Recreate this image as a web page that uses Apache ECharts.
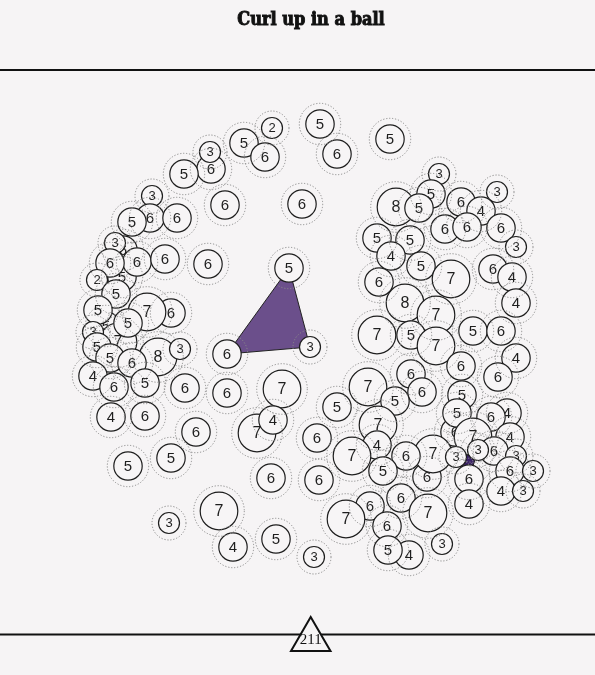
<!DOCTYPE html>
<html>
<head>
<meta charset="utf-8">
<script src="https://cdn.jsdelivr.net/npm/echarts@6/dist/echarts.min.js"></script>
<style>
html, body { margin: 0; padding: 0; background: #f6f4f5; }
#chart { width: 595px; height: 675px; }
</style>
</head>
<body>
<div id="chart"></div>
<script>
// node positions (layout units = px of the 595x675 picture) and their labels
// order matters: later nodes are drawn on top of earlier ones
var nodes = [
	// top arc
	[272, 128, 2], [244, 143, 5], [265, 157, 6], [320, 124, 5], [337, 154, 6],
	[390, 139, 5], [211, 169, 6], [210, 152, 3], [184, 174, 5], [152, 196, 3],
	[150, 218, 6], [132, 222, 5], [177, 218, 6], [225, 205, 6], [302, 204, 6],
	// left cluster (a few hidden ones first)
	[123, 250, 6], [122, 277, 5], [106, 326, 5], [118, 342, 7],
	[115, 243, 3], [137, 262, 6], [110, 263, 6], [165, 259, 6], [208, 264, 6],
	[97, 280, 2], [116, 294, 5], [98, 310, 5], [171, 313, 6], [147, 312, 7],
	[128, 323, 5], [93, 332, 3], [97, 347, 5], [110, 358, 5], [158, 357, 8],
	[180, 349, 3], [132, 363, 6], [93, 376, 4], [114, 387, 6], [145, 383, 5],
	[185, 388, 6], [111, 417, 4], [145, 416, 6], [196, 432, 6], [128, 466, 5],
	[171, 458, 5],
	// centre
	[289, 268, 5], [227, 354, 6], [310, 347, 3], [227, 393, 6], [282, 389, 7],
	[257, 433, 7], [273, 420, 4], [337, 407, 5], [317, 438, 6], [271, 478, 6],
	[319, 480, 6], [169, 523, 3], [219, 511, 7], [233, 547, 4], [276, 539, 5],
	[314, 557, 3],
	// right, upper
	[439, 174, 3], [497, 192, 3], [396, 207, 8], [431, 194, 5], [419, 208, 5],
	[461, 202, 6], [481, 211, 4], [445, 229, 6], [467, 227, 6], [501, 228, 6],
	[516, 247, 3], [377, 238, 5], [410, 240, 5], [391, 256, 4], [421, 266, 5],
	[451, 279, 7], [493, 269, 6], [512, 277, 4], [379, 282, 6], [516, 303, 4],
	[405, 303, 8], [436, 315, 7], [377, 335, 7], [411, 335, 5], [436, 346, 7],
	[473, 331, 5], [501, 331, 6], [516, 358, 4], [461, 366, 6], [498, 377, 6],
	// right, lower
	[368, 387, 7], [411, 374, 6], [422, 392, 6], [395, 401, 5], [462, 395, 5],
	[378, 425, 7], [377, 445, 4], [352, 456, 7], [455, 432, 6],
	[457, 413, 5], [507, 413, 4], [491, 417, 6], [473, 437, 7], [510, 437, 4],
	[427, 477, 6], [433, 454, 7], [406, 456, 6], [456, 457, 3], [494, 451, 6],
	[478, 450, 3], [516, 456, 3], [383, 471, 5], [469, 479, 6], [510, 471, 6],
	[533, 471, 3], [501, 491, 4], [523, 491, 3], [469, 504, 4], [370, 506, 6],
	[401, 498, 6], [346, 519, 7], [428, 513, 7], [387, 526, 6], [409, 555, 4],
	[388, 550, 5], [442, 544, 3]
];

// groups joined by a filled hull (member node centres)
var hullMain = [[289, 268], [310, 347], [227, 354]];
var hullSmall = [[456, 457], [478, 450], [469, 479]];
var hulls = [hullMain, hullSmall];
var hullColors = ['#6b4f8b', '#3b2168'];

var chartTitle = 'Curl up in a ball';
var footCount = '211';

var BG = '#f6f4f5';

// circle radius from the label value
function radiusOf(v)
{
	if (v <= 3) return 10.5;
	if (v <= 6) return 14.2;
	return 18.8;
}

var myChart = echarts.init(document.getElementById('chart'), null, {renderer: 'canvas'});
var option = {};
option.backgroundColor = BG;
option.animation = false;
option.grid = {left: 0, right: 0, top: 0, bottom: 0};
option.xAxis = {type: 'value', min: 0, max: 595, show: false};
option.yAxis = {type: 'value', min: 0, max: 675, inverse: true, show: false};

option.series = [];

// hull polygons, behind everything
option.series.push({
	type: 'custom',
	silent: true,
	z: 1,
	data: hulls.map(function (h, i) { return [i, 0]; }),
	renderItem: function (params, api) {
		var h = hulls[params.dataIndex];
		var pts = h.map(function (p) { return api.coord(p); });
		return {
			type: 'polygon',
			shape: {points: pts},
			style: {fill: hullColors[params.dataIndex], stroke: '#222', lineWidth: 1}
		};
	}
});

// solid circles with their numbers
option.series.push({
	type: 'custom',
	silent: true,
	z: 2,
	data: nodes,
	renderItem: function (params, api) {
		var p = api.coord([api.value(0), api.value(1)]);
		var v = api.value(2);
		var r = radiusOf(v);
		return {
			type: 'group',
			children: [
				{type: 'circle', shape: {cx: p[0], cy: p[1], r: r},
					style: {fill: '#f7f5f6', stroke: '#1e1e1e', lineWidth: 1.2}},
				{type: 'text', x: p[0], y: p[1] + 0.5,
					style: {text: String(v), align: 'center', verticalAlign: 'middle',
						font: (v <= 3 ? '13px' : (v >= 7 ? '16px' : '15px')) + ' "Liberation Sans", Arial, sans-serif', fill: '#1e1e1e'}}
			]
		};
	}
});

// dotted outer rings, drawn over everything
option.series.push({
	type: 'custom',
	silent: true,
	z: 3,
	data: nodes,
	renderItem: function (params, api) {
		var p = api.coord([api.value(0), api.value(1)]);
		var r = radiusOf(api.value(2)) + 6.5;
		return {
			type: 'circle',
			shape: {cx: p[0], cy: p[1], r: r},
			style: {fill: null, stroke: '#8a8a8a', lineWidth: 1, lineDash: [1.2, 1.8]}
		};
	}
});

// title, rules and the footer marker
option.graphic = [
	{type: 'text', x: 311, y: 20, z: 10,
		style: {text: chartTitle, align: 'center', verticalAlign: 'middle',
			fontFamily: 'DejaVu Serif Condensed', fontWeight: 'bold', fontSize: 18,
			fill: '#111', stroke: '#111', lineWidth: 0.9}},
	{type: 'line', z: 10, shape: {x1: 0, y1: 70, x2: 595, y2: 70},
		style: {stroke: '#111', lineWidth: 2}},
	{type: 'line', z: 10, shape: {x1: 0, y1: 634.5, x2: 595, y2: 634.5},
		style: {stroke: '#111', lineWidth: 2}},
	{type: 'polygon', z: 11, shape: {points: [[310.7, 617], [291, 651], [330.5, 651]]},
		style: {fill: BG, stroke: '#111', lineWidth: 2}},
	{type: 'text', z: 12, x: 310.7, y: 640,
		style: {text: footCount, align: 'center', verticalAlign: 'middle',
			font: '15px "Liberation Serif", "DejaVu Serif", serif', fill: '#111'}}
];

myChart.setOption(option);
</script>
</body>
</html>
